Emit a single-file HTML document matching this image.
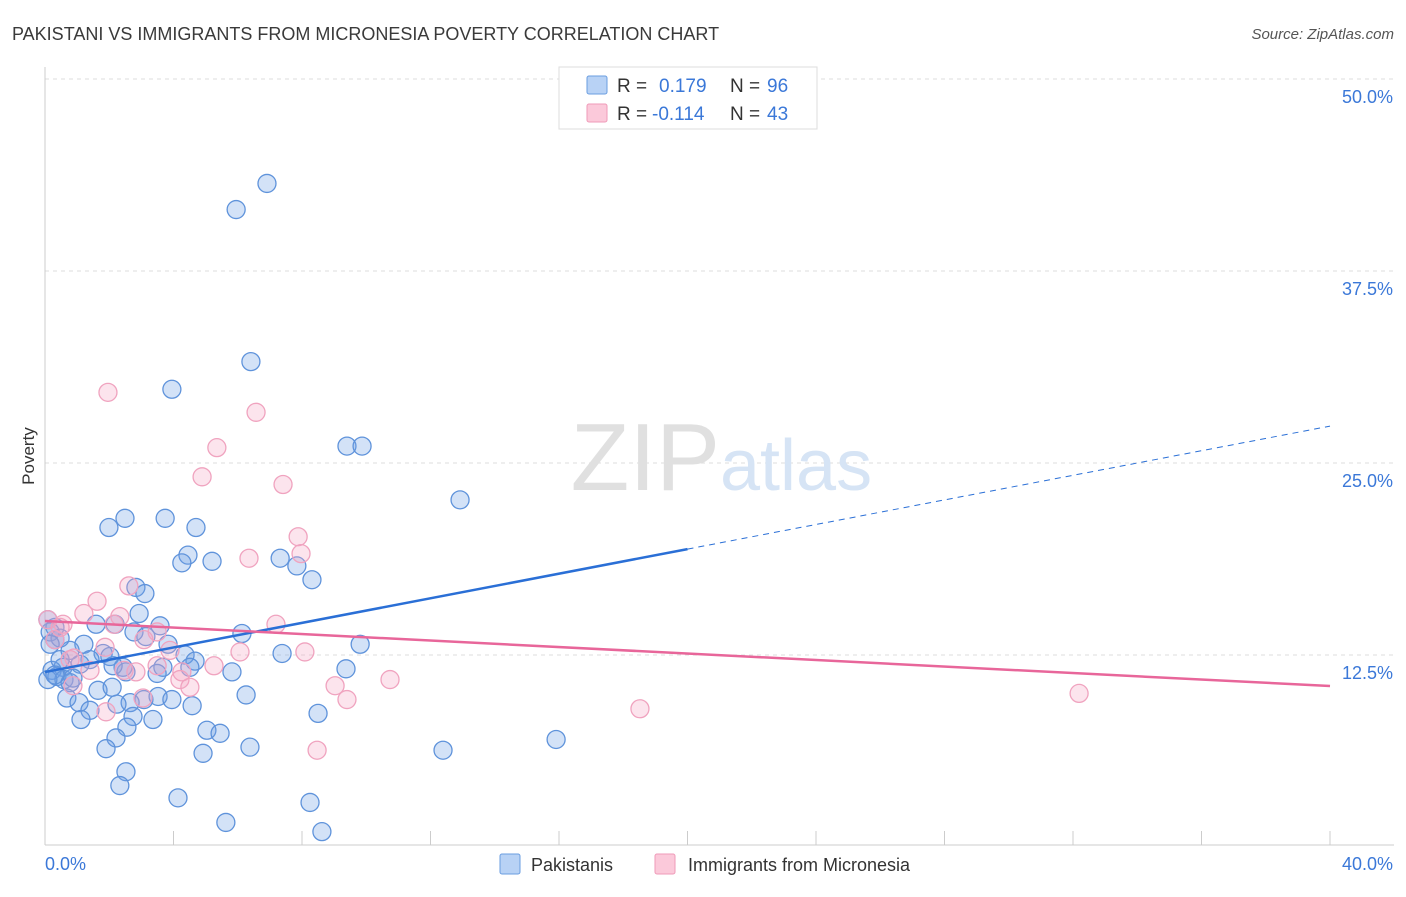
<!DOCTYPE html>
<html><head><meta charset="utf-8"><style>
body{margin:0;background:#fff;font-family:"Liberation Sans",sans-serif}
svg text{font-family:"Liberation Sans",sans-serif}
</style></head><body>
<svg id="c" width="1406" height="892" xmlns="http://www.w3.org/2000/svg">
<text x="12" y="40" font-size="18" fill="#3a3a3a">PAKISTANI VS IMMIGRANTS FROM MICRONESIA POVERTY CORRELATION CHART</text>
<text x="1394" y="39" font-size="15" fill="#555" font-style="italic" text-anchor="end">Source: ZipAtlas.com</text>
<text x="34" y="456" font-size="17" fill="#333" transform="rotate(-90 34 456)" text-anchor="middle">Poverty</text>
<g id="grid"></g>
<g id="axes"></g>
<text x="720" y="490" font-size="96" fill="#e0e0e0" text-anchor="end" font-family="Liberation Serif">ZIP</text>
<text x="720" y="490" font-size="72" fill="#d6e4f5">atlas</text>
<g id="pts"></g>
<g id="trends"></g>
<g>
<rect x="559" y="67" width="258" height="62" fill="#fff" stroke="#ddd"/>
<rect x="587" y="76" width="20" height="18" fill="#b8d2f5" stroke="#6a9de0" rx="2"/>
<text x="617" y="92" font-size="19" fill="#333">R = </text><text x="659" y="92" font-size="19" fill="#3b78d8">0.179</text>
<text x="730" y="92" font-size="19" fill="#333">N = </text><text x="767" y="92" font-size="19" fill="#3b78d8">96</text>
<rect x="587" y="104" width="20" height="18" fill="#fbc9da" stroke="#ef9ab8" rx="2"/>
<text x="617" y="120" font-size="19" fill="#333">R = </text><text x="652" y="120" font-size="19" fill="#3b78d8">-0.114</text>
<text x="730" y="120" font-size="19" fill="#333">N = </text><text x="767" y="120" font-size="19" fill="#3b78d8">43</text>
</g>
<g>
<rect x="500" y="854" width="20" height="20" fill="#b8d2f5" stroke="#6a9de0" rx="2"/>
<text x="531" y="871" font-size="18" fill="#333">Pakistanis</text>
<rect x="655" y="854" width="20" height="20" fill="#fbc9da" stroke="#ef9ab8" rx="2"/>
<text x="688" y="871" font-size="18" fill="#333">Immigrants from Micronesia</text>
</g>
</svg>
<script>
const yTicks=[12.5,25,37.5,50];
const yTickLabels=["12.5%","25.0%","37.5%","50.0%"];
const xTickVals=[0,4,8,12,16,20,24,28,32,36,40];
const xEndLabels=["0.0%","40.0%"];
const blueX=[6.91,5.95,6.41,3.95,9.40,9.87,12.92,2.49,3.74,1.99,4.70,4.45,4.26,5.20,7.32,7.84,8.31,2.83,3.11,2.93,3.58,2.18,1.59,2.77,3.14,6.13,0.31,0.16,0.31,1.21,0.78,0.47,9.81,3.83,4.36,4.67,7.38,1.81,2.02,2.43,2.52,1.40,1.09,0.56,0.22,0.37,0.59,0.78,0.87,0.09,5.82,9.37,3.67,3.49,1.65,2.09,0.68,1.06,6.26,3.08,3.52,3.95,2.65,2.24,1.40,4.58,8.50,2.74,1.12,3.36,2.55,5.04,5.45,2.21,1.90,6.38,4.92,12.39,15.91,2.52,2.33,4.14,8.25,5.63,8.62,0.09,0.47,0.16,0.31,2.12,4.51];
const blueY=[43.2,41.5,31.6,29.8,26.1,26.1,22.6,21.4,21.4,20.8,20.8,19.0,18.5,18.6,18.8,18.3,17.4,16.9,16.5,15.2,14.4,14.5,14.5,14.0,13.7,13.9,14.3,14.0,13.5,13.2,12.8,13.6,13.2,13.2,12.5,12.1,12.6,12.6,12.4,11.7,11.4,12.2,11.9,11.7,11.5,11.1,10.9,10.7,11.0,10.9,11.4,11.6,11.7,11.3,10.2,10.4,9.7,9.4,9.9,9.6,9.8,9.6,9.4,9.3,8.9,9.2,8.7,8.5,8.3,8.3,7.8,7.6,7.4,7.1,6.4,6.5,6.1,6.3,7.0,4.9,4.0,3.2,2.9,1.6,1.0,14.8,12.2,13.2,11.2,11.8,11.7];
const pinkX=[1.96,6.57,5.35,4.89,7.41,7.88,7.97,6.35,2.61,2.33,1.62,1.21,0.09,0.56,3.49,3.08,7.19,2.15,3.89,6.07,8.09,0.90,1.40,2.46,2.83,4.26,5.26,4.20,4.51,9.03,10.74,0.87,1.90,9.40,3.05,18.52,32.19,8.47,0.31,0.47,1.87,0.78,3.49];
const pinkY=[29.6,28.3,26.0,24.1,23.6,20.2,19.1,18.8,17.0,15.0,16.0,15.2,14.8,14.5,14.0,13.5,14.5,14.5,12.8,12.7,12.7,12.3,11.5,11.5,11.4,11.4,11.8,10.9,10.4,10.5,10.9,10.5,8.8,9.6,9.7,9.0,10.0,6.3,13.5,14.3,13.0,12.2,11.8];
const blueTrend=[11.39,27.4];
const blueSolidEnd=20;
const pinkTrend=[14.71,10.48];

const NS="http://www.w3.org/2000/svg";
const X=v=>45+v*32.125, Y=v=>847-v*15.36;
function mk(t,a,p){const e=document.createElementNS(NS,t);for(const k in a)e.setAttribute(k,a[k]);p.appendChild(e);return e;}
const grid=document.getElementById('grid'),axes=document.getElementById('axes'),pts=document.getElementById('pts'),tr=document.getElementById('trends');
yTicks.forEach((v,i)=>{
 const l=mk('line',{x1:45,x2:1394,y1:Y(v),y2:Y(v),stroke:'#ddd','stroke-dasharray':'4,4'},grid);
 
 
 const t=mk('text',{x:1393,y:Y(v)+24,'font-size':18,fill:'#3b78d8','text-anchor':'end'},axes);
 t.textContent=yTickLabels[i];
 
 
});
const ax=mk('line',{x1:45,x2:45,y1:67,y2:845,stroke:'#ccc'},axes);


const bx=mk('line',{x1:45,x2:1394,y1:845,y2:845,stroke:'#ccc'},axes);


xTickVals.forEach(v=>{
 const t=mk('line',{x1:X(v),x2:X(v),y1:831,y2:845,stroke:'#ccc'},axes);
 
 
});
[[0,'start',45],[1,'end',1393]].forEach(([i,a,x])=>{
 const t=mk('text',{x:x,y:870,'font-size':18,fill:'#3b78d8','text-anchor':a},axes);
 t.textContent=xEndLabels[i];
 
 
});
blueX.forEach((v,i)=>{
 const c=mk('circle',{cx:X(v),cy:Y(blueY[i]),r:9,fill:'rgba(110,160,230,0.3)',stroke:'#5f93db','stroke-width':1.3},pts);
 
 
});
pinkX.forEach((v,i)=>{
 const c=mk('circle',{cx:X(v),cy:Y(pinkY[i]),r:9,fill:'rgba(245,165,195,0.3)',stroke:'#f0a3bf','stroke-width':1.3},pts);
 
 
});
const bAt=x=>blueTrend[0]+(blueTrend[1]-blueTrend[0])*x/40;
const b1=mk('line',{x1:X(0),y1:Y(bAt(0)),x2:X(blueSolidEnd),y2:Y(bAt(blueSolidEnd)),stroke:'#2a6fd6','stroke-width':2.5},tr);


const b2=mk('line',{x1:X(blueSolidEnd),y1:Y(bAt(blueSolidEnd)),x2:X(40),y2:Y(bAt(40)),stroke:'#2a6fd6','stroke-width':1,'stroke-dasharray':'6,5'},tr);


const p1=mk('line',{x1:X(0),y1:Y(pinkTrend[0]),x2:X(40),y2:Y(pinkTrend[1]),stroke:'#e8669a','stroke-width':2.5},tr);


</script>
</body></html>
